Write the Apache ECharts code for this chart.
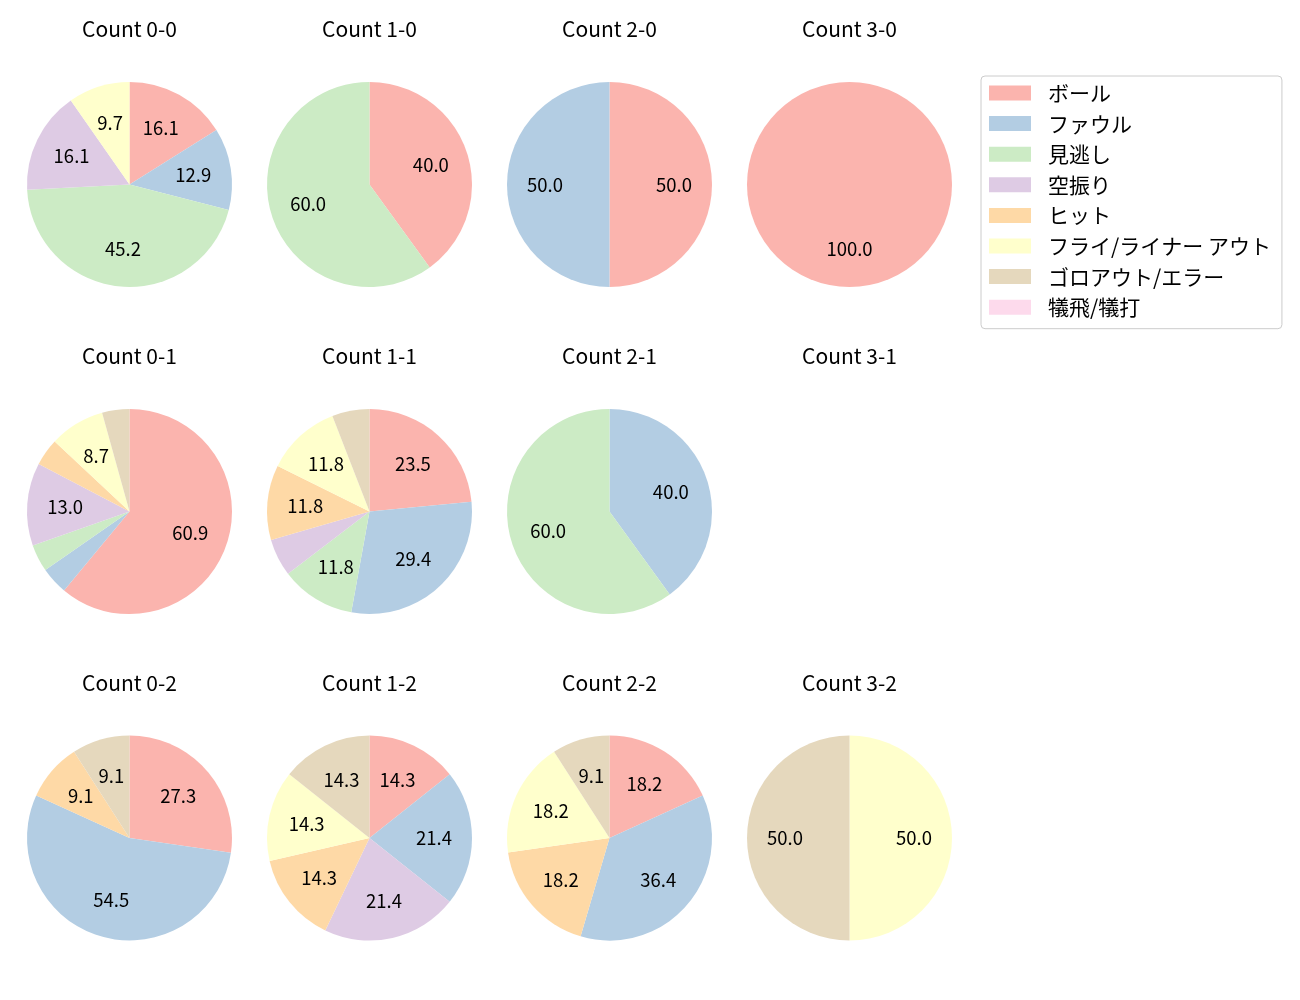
<!DOCTYPE html>
<html>
<head>
<meta charset="utf-8">
<script src="https://cdn.jsdelivr.net/npm/echarts@6/dist/echarts.min.js"></script>
<style>
html,body{margin:0;padding:0;background:#fff;}
#chart{width:1300px;height:1000px;}
</style>
</head>
<body>
<div id="chart"></div>
<script>
// Categories (legend order)
var categories = ['ボール', 'ファウル', '見逃し', '空振り', 'ヒット', 'フライ/ライナー アウト', 'ゴロアウト/エラー', '犠飛/犠打'];
var colors = ['#fbb4ae', '#b3cde3', '#ccebc5', '#decbe4', '#fed9a6', '#ffffcc', '#e5d8bd', '#fddaec'];

// Percentages per count, in category order
var count00 = [16.1, 12.9, 45.2, 16.1, 0, 9.7, 0, 0];
var count10 = [40.0, 0, 60.0, 0, 0, 0, 0, 0];
var count20 = [50.0, 50.0, 0, 0, 0, 0, 0, 0];
var count30 = [100.0, 0, 0, 0, 0, 0, 0, 0];
var count01 = [60.9, 4.3, 4.3, 13.0, 4.3, 8.7, 4.3, 0];
var count11 = [23.5, 29.4, 11.8, 5.9, 11.8, 11.8, 5.9, 0];
var count21 = [0, 40.0, 60.0, 0, 0, 0, 0, 0];
var count31 = null;
var count02 = [27.3, 54.5, 0, 0, 9.1, 0, 9.1, 0];
var count12 = [14.3, 21.4, 0, 21.4, 14.3, 14.3, 14.3, 0];
var count22 = [18.2, 36.4, 0, 0, 18.2, 18.2, 9.1, 0];
var count32 = [0, 0, 0, 0, 0, 50.0, 50.0, 0];

var titles = ['Count 0-0', 'Count 1-0', 'Count 2-0', 'Count 3-0',
              'Count 0-1', 'Count 1-1', 'Count 2-1', 'Count 3-1',
              'Count 0-2', 'Count 1-2', 'Count 2-2', 'Count 3-2'];
var panels = [count00, count10, count20, count30,
              count01, count11, count21, count31,
              count02, count12, count22, count32];

var colX = [129.5, 369.5, 609.5, 849.5];
var rowY = [184.5, 511.5, 838];
var titleY = [29, 356, 683];
var R = 102.5;
var FONT = '"Noto Sans CJK JP", "Noto Sans", sans-serif';

var titleOpts = [];
var mainSeries = [];
var labelSeries = [];

panels.forEach(function (vals, i) {
  var c = i % 4, r = Math.floor(i / 4);
  titleOpts.push({
    text: titles[i],
    left: colX[c],
    top: titleY[r] - 11,
    textAlign: 'center',
    padding: 0,
    textStyle: {fontFamily: FONT, fontSize: 21, fontWeight: 'normal', color: '#000', lineHeight: 22}
  });
  if (!vals) return;
  var data = categories.map(function (name, k) {
    return {name: name, value: vals[k], itemStyle: {color: colors[k]}};
  });
  mainSeries.push({
    type: 'pie',
    center: [colX[c], rowY[r]],
    radius: [0, R],
    startAngle: 90,
    clockwise: true,
    animation: false,
    silent: true,
    label: {show: false},
    labelLine: {show: false},
    itemStyle: {borderWidth: 0},
    data: data
  });
  labelSeries.push({
    type: 'pie',
    center: [colX[c], rowY[r]],
    radius: [R * 0.2, R],
    startAngle: 90,
    clockwise: true,
    animation: false,
    silent: true,
    avoidLabelOverlap: false,
    itemStyle: {color: 'rgba(0,0,0,0)', borderWidth: 0},
    label: {
      show: true,
      position: 'inside',
      fontFamily: FONT,
      fontSize: 18.5,
      color: '#000',
      formatter: function (p) { return p.value >= 6 ? p.value.toFixed(1) : ''; }
    },
    labelLine: {show: false},
    data: categories.map(function (name, k) { return {name: name, value: vals[k]}; })
  });
});

var chart = echarts.init(document.getElementById('chart'), null, {renderer: 'canvas'});
chart.setOption({
  backgroundColor: '#fff',
  animation: false,
  title: titleOpts,
  legend: {
    orient: 'vertical',
    left: 981,
    top: 76,
    padding: [6.5, 11, 11, 8],
    itemWidth: 42,
    itemHeight: 15,
    itemGap: 9.6,
    borderColor: '#cccccc',
    borderWidth: 1,
    borderRadius: 4,
    backgroundColor: '#fff',
    selectedMode: false,
    icon: 'rect',
    textStyle: {fontFamily: FONT, fontSize: 21, color: '#000', lineHeight: 15, padding: [0, 0, 0, 12]},
    data: categories.map(function (n, k) { return {name: n, itemStyle: {color: colors[k]}}; })
  },
  series: mainSeries.concat(labelSeries)
});
</script>
</body>
</html>
